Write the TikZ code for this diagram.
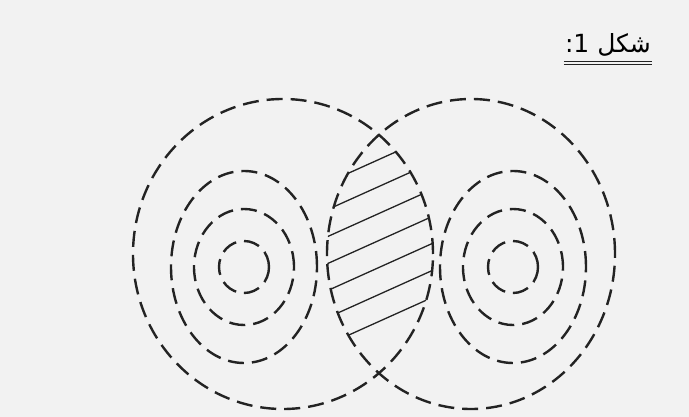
\documentclass[tikz,border=0pt]{standalone}
\usepackage{fontspec}
\newfontfamily\arabicfont[Script=Arabic]{DejaVu Sans}
\TeXXeTstate=1
\usetikzlibrary{positioning}
\definecolor{paper}{RGB}{242,242,242}
\definecolor{ink}{RGB}{35,35,35}

\begin{document}
\begin{tikzpicture}[x=1pt,y=-1pt,
  ring/.style={draw=ink,line width=2.4pt,dash pattern=on 16pt off 8pt},
  hatch/.style={draw=ink,line width=1.3pt}]
  \fill[paper] (0,0) rectangle (689,417);
  \useasboundingbox (0,0) rectangle (689,417);
  % title
  \node[font=\arabicfont\fontsize{25}{30}\selectfont,inner sep=1pt]
    (title) at (608,45) {\beginR شكل 1:\endR};
  \draw[ink,line width=0.9pt] ([yshift=-4pt]title.south west) -- ([yshift=-4pt]title.south east);
  \draw[ink,line width=0.9pt] ([yshift=-6.5pt]title.south west) -- ([yshift=-6.5pt]title.south east);
  % centres
  \coordinate (lo) at (283,254);
  \coordinate (ro) at (471,254);
  \coordinate (lc) at (244,267);
  \coordinate (rc) at (513,267);
  % hatched overlap
  \begin{scope}
    \clip (lo) ellipse [x radius=150pt,y radius=155pt];
    \clip (ro) ellipse [x radius=144pt,y radius=155pt];
    \foreach \k in {0,...,6}
      \draw[hatch] (300,{195+27*\k}) -- ++(160,-72);
  \end{scope}
  % outer rings
  \draw[ring] (lo) ellipse [x radius=150pt,y radius=155pt];
  \draw[ring] (ro) ellipse [x radius=144pt,y radius=155pt];
  % inner rings
  \foreach \rx/\ry in {25pt/26pt,50pt/58pt,73pt/96pt}{
    \draw[ring] (lc) ellipse [x radius=\rx,y radius=\ry];
    \draw[ring] (rc) ellipse [x radius=\rx,y radius=\ry];
  }
\end{tikzpicture}
\end{document}
